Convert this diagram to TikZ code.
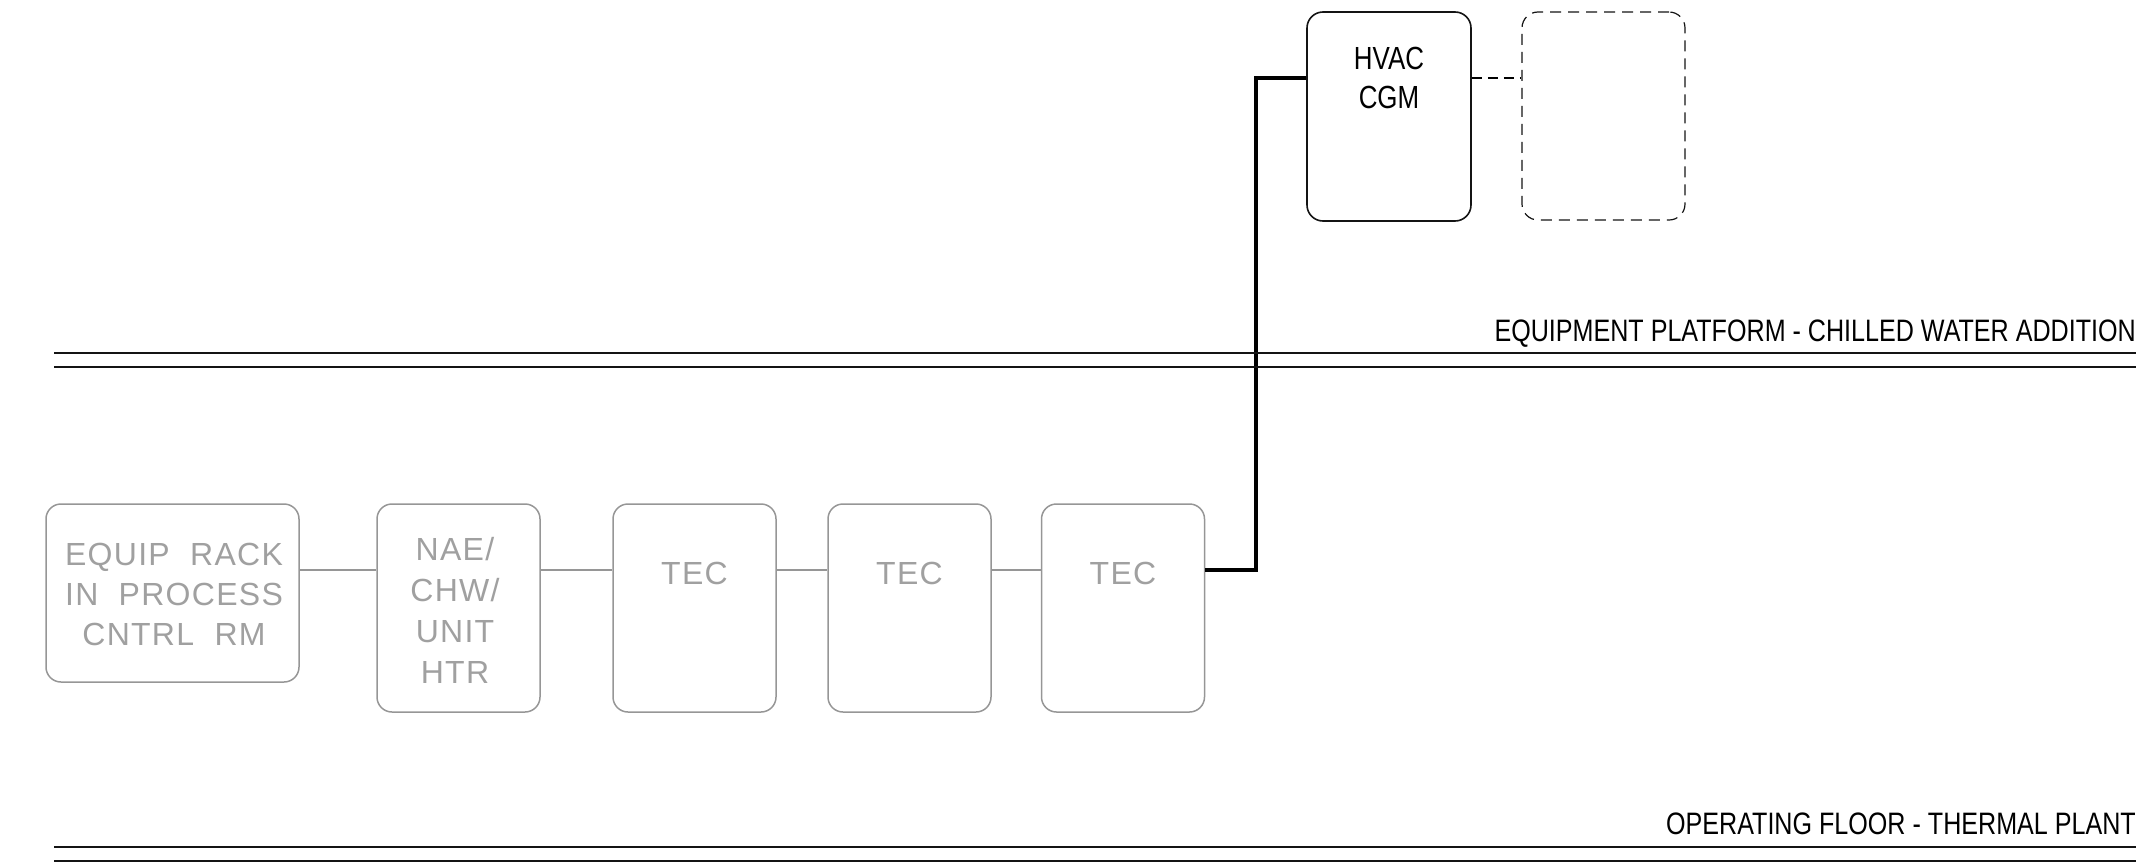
\documentclass[tikz,border=0pt]{standalone}
\usepackage{fontspec}
\setmainfont{Liberation Sans}
\newfontfamily\narrowfont{Liberation Sans}[FakeStretch=0.81]
\newfontfamily\cadfont{Liberation Sans}[LetterSpace=4]
\definecolor{cadgray}{RGB}{150,150,150}
\definecolor{cadtext}{RGB}{160,160,160}
\definecolor{cadblack}{RGB}{20,20,20}
\begin{document}
\begin{tikzpicture}[x=1pt,y=-1pt,
  graybox/.style={draw=cadgray, line width=1.5pt, rounded corners=15pt, inner sep=0pt, minimum width=163pt, minimum height=208pt},
  hvacbox/.style={draw=cadblack, line width=1.6pt, rounded corners=16pt, inner sep=0pt, minimum width=164pt, minimum height=209pt},
  sparebox/.style={draw=cadblack, line width=1.2pt, rounded corners=16pt, inner sep=0pt, minimum width=163pt, minimum height=208pt, dash pattern=on 11pt off 7pt},
  graytext/.style={text=cadtext, inner sep=0pt, align=center, anchor=north, font=\cadfont\fontsize{32}{40}\selectfont},
  graylink/.style={draw=cadgray, line width=1.5pt},
  blacklink/.style={draw=black, line width=3.2pt},
  dashlink/.style={draw=black, line width=2.6pt, dash pattern=on 10pt off 6pt},
  floorline/.style={draw=cadblack, line width=1.3pt},
  floorlabel/.style={inner sep=0pt, anchor=base east, font=\narrowfont\fontsize{31}{36}\selectfont}
]
\useasboundingbox (0,0) rectangle (2144,862);

% boxes
\node[graybox, minimum width=253pt, minimum height=178pt] (eq) at (172.5,593) {};
\node[graybox] (nae) at (458.5,608) {};
\node[graybox] (tec1) at (694.5,608) {};
\node[graybox] (tec2) at (909.5,608) {};
\node[graybox] (tec3) at (1123,608) {};
\node[hvacbox] (hvac) at (1389,116.5) {};
\node[sparebox] (spare) at (1603.5,116) {};

% texts
\node[graytext] (eqt) at (174,543) {EQUIP\ \ RACK\\IN\ \ PROCESS\\CNTRL\ \ RM};
\node[graytext, font=\cadfont\fontsize{32}{41}\selectfont] (naet) at (455,537) {NAE/\\CHW/\\UNIT\\HTR};
\node[graytext] (tec1t) at (694.5,562) {TEC};
\node[graytext] (tec2t) at (909.5,562) {TEC};
\node[graytext] (tec3t) at (1123,562) {TEC};
\node[inner sep=0pt, align=center, anchor=north, font=\narrowfont\fontsize{32}{39}\selectfont] (hvact) at (1389,47) {HVAC\\CGM};

% helper coordinates
\coordinate (bus) at (0,570);
\coordinate (hv) at (0,78);
\coordinate (jog) at (1256,570);

% connectors
\draw[graylink] (eq.east |- bus) -- (nae.west |- bus);
\draw[graylink] (nae.east |- bus) -- (tec1.west |- bus);
\draw[graylink] (tec1.east |- bus) -- (tec2.west |- bus);
\draw[graylink] (tec2.east |- bus) -- (tec3.west |- bus);
\draw[blacklink] (tec3.east |- bus) -- (jog) |- (hvac.west |- hv);
\draw[dashlink] (hvac.east |- hv) -- (spare.west |- hv);

% floor lines
\draw[floorline] (54,353) -- (2136,353);
\draw[floorline] (54,367) -- (2136,367);
\draw[floorline] (54,847) -- (2136,847);
\draw[floorline] (54,861) -- (2136,861);

% floor labels
\node[floorlabel] (lab1) at (2136,341) {EQUIPMENT PLATFORM - CHILLED WATER ADDITION};
\node[floorlabel] (lab2) at (2136,834) {OPERATING FLOOR - THERMAL PLANT};
\end{tikzpicture}
\end{document}
